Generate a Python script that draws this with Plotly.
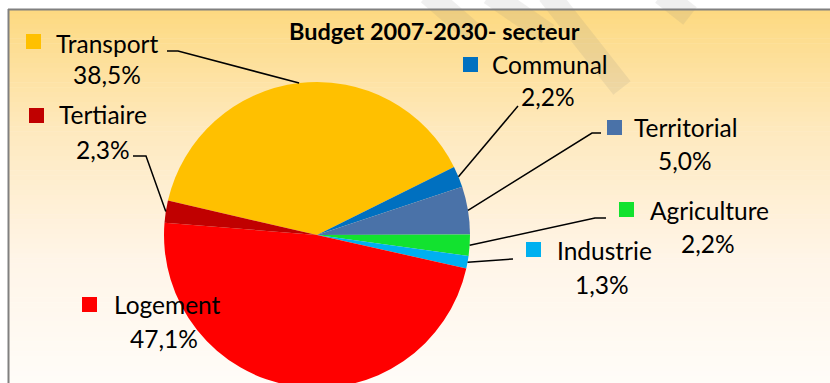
import numpy as np
import plotly.graph_objects as go

# Canvas (the pie runs slightly past the bottom edge of the visible frame)
W, H = 830, 400

# Data
sectors = ["Transport", "Communal", "Territorial", "Agriculture", "Industrie", "Logement", "Tertiaire"]
shares = [38.5, 2.2, 5.0, 2.2, 1.3, 47.1, 2.3]
colors = ["#FFC000", "#0070C0", "#4A72A8", "#12E22F", "#00B0F0", "#FF0000", "#C00000"]
title_text = "Budget 2007-2030- secteur"

# Pie geometry in pixels
CX, CY, R = 317, 235, 153
ROT = -77  # start of first slice, degrees clockwise from 12 o'clock

FONT = "Lato"
LABEL_SIZE = 24.5
TITLE_SIZE = 23.5


def px(x):
    return x / W


def py(y):
    return 1 - y / H


fig = go.Figure(
    go.Pie(
        labels=sectors,
        values=shares,
        sort=False,
        direction="clockwise",
        rotation=ROT,
        marker=dict(colors=colors, line=dict(width=0)),
        textinfo="none",
        hoverinfo="label+percent",
        showlegend=False,
        domain=dict(x=[px(CX - R), px(CX + R)], y=[py(CY + R), py(CY - R)]),
    )
)

# Mid-angle of each slice, derived from the values
total = sum(shares)
mid_angles = []
acc = 0.0
for v in shares:
    mid_angles.append(ROT + 360.0 * (acc + v / 2) / total)
    acc += v


def rim(angle_deg):
    a = np.radians(angle_deg)
    return CX + R * np.sin(a), CY - R * np.cos(a)


# Label placement: legend square, name, percentage, leader-line start points
label_layout = {
    "Transport":   dict(sq=(26, 34), name=(54, 43), pct=(107, 74), lead=[(167, 51), (178, 51)]),
    "Communal":    dict(sq=(463, 57), name=(490, 65), pct=(548, 97), lead=[(518, 106)]),
    "Territorial": dict(sq=(607, 120), name=(632, 127), pct=(685, 160), lead=[(601, 133), (592, 133)]),
    "Agriculture": dict(sq=(619, 202), name=(648, 210), pct=(708, 243), lead=[(606, 218), (595, 218)]),
    "Industrie":   dict(sq=(526, 242), name=(555, 250), pct=(602, 284), lead=[(513, 259)]),
    "Logement":    dict(sq=(82, 297), name=(112, 304), pct=(164, 338), lead=[]),
    "Tertiaire":   dict(sq=(29, 108), name=(57, 115), pct=(103, 149), lead=[(133, 156), (146, 156)]),
}

shapes = []

# Background: vertical warm gradient inside the chart frame
stops = [(9, (253, 217, 128)), (130, (254, 233, 190)), (260, (255, 245, 232)), (400, (255, 253, 250))]
n_strips = 80
y_edges = np.linspace(9, H, n_strips + 1)
for i in range(n_strips):
    ym = (y_edges[i] + y_edges[i + 1]) / 2
    for (y0, c0), (y1, c1) in zip(stops[:-1], stops[1:]):
        if y0 <= ym <= y1:
            t = (ym - y0) / (y1 - y0)
            c = tuple(int(round(c0[k] + t * (c1[k] - c0[k]))) for k in range(3))
            break
    shapes.append(dict(
        type="rect", xref="paper", yref="paper", layer="below",
        x0=px(8), x1=px(W), y0=py(y_edges[i + 1] + 0.5), y1=py(y_edges[i]),
        fillcolor=f"rgb{c}", line=dict(width=0),
    ))

# Faint diagonal watermark strokes
for (x0, y0, x1, y1) in [(428, -6, 472, 32), (490, -6, 548, 34), (548, -6, 622, 88), (662, -6, 690, 16)]:
    shapes.append(dict(
        type="line", xref="paper", yref="paper", layer="below",
        x0=px(x0), y0=py(y0), x1=px(x1), y1=py(y1),
        line=dict(color="rgba(120,120,120,0.12)", width=22),
    ))

# Frame border (left and top)
shapes.append(dict(type="line", xref="paper", yref="paper", x0=px(8.5), x1=px(8.5), y0=py(9), y1=py(H),
                   line=dict(color="#808080", width=2)))
shapes.append(dict(type="line", xref="paper", yref="paper", x0=px(8), x1=px(W), y0=py(9.5), y1=py(9.5),
                   line=dict(color="#808080", width=2)))

annotations = []
for name, v, col, ang in zip(sectors, shares, colors, mid_angles):
    lay = label_layout[name]
    sx, sy = lay["sq"]
    shapes.append(dict(type="rect", xref="paper", yref="paper",
                       x0=px(sx), x1=px(sx + 15), y0=py(sy + 15), y1=py(sy),
                       fillcolor=col, line=dict(width=0)))
    nx, ny = lay["name"]
    annotations.append(dict(x=px(nx), y=py(ny), xref="paper", yref="paper", text=name,
                            showarrow=False, xanchor="left", yanchor="middle",
                            font=dict(family=FONT, size=LABEL_SIZE, color="#000000")))
    qx, qy = lay["pct"]
    annotations.append(dict(x=px(qx), y=py(qy), xref="paper", yref="paper",
                            text=f"{v:.1f}%".replace(".", ","),
                            showarrow=False, xanchor="center", yanchor="middle",
                            font=dict(family=FONT, size=LABEL_SIZE, color="#000000")))
    if lay["lead"]:
        pts = lay["lead"] + [rim(ang)]
        path = "M " + " L ".join(f"{px(x):.5f},{py(y):.5f}" for x, y in pts)
        shapes.append(dict(type="path", xref="paper", yref="paper", path=path,
                           line=dict(color="#000000", width=1.5)))

annotations.append(dict(x=px(434.5), y=py(31), xref="paper", yref="paper", text=f"<b>{title_text}</b>",
                        showarrow=False, xanchor="center", yanchor="middle",
                        font=dict(family=FONT, size=TITLE_SIZE, color="#000000")))

fig.update_layout(
    width=W, height=H,
    margin=dict(l=0, r=0, t=0, b=0),
    paper_bgcolor="#FFFFFF",
    plot_bgcolor="#FFFFFF",
    shapes=shapes,
    annotations=annotations,
    showlegend=False,
)

fig.write_html(
    "out.html",
    post_script="document.documentElement.style.overflow='hidden';document.body.style.overflow='hidden';",
)
